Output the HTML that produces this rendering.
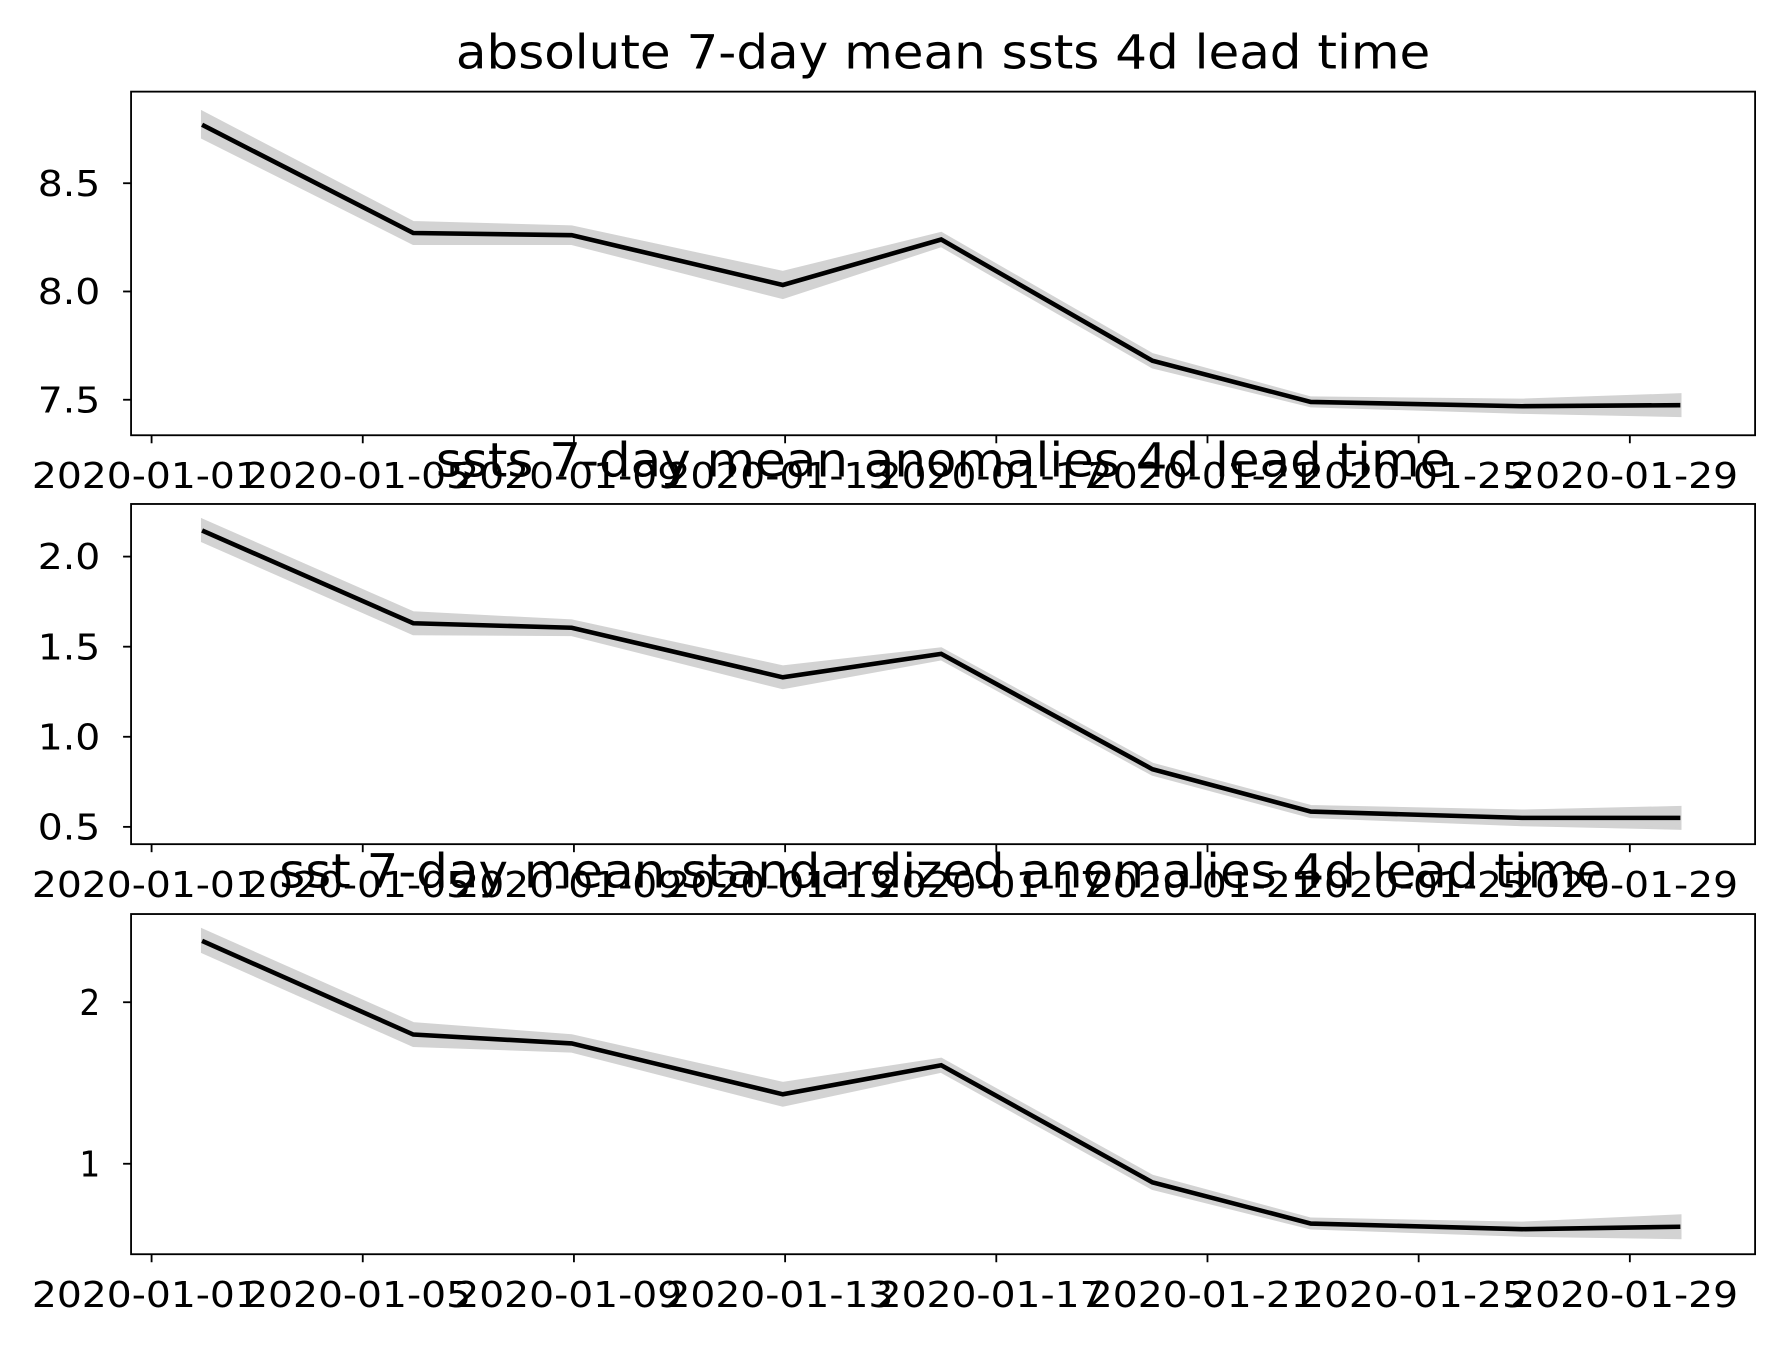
<!DOCTYPE html>
<html><head><meta charset="utf-8"><style>
html,body{margin:0;padding:0;background:#fff;}
svg{display:block;}
text{font-family:"DejaVu Sans","Liberation Sans",sans-serif;fill:#000;}
</style></head><body>
<svg id="chart" width="1787" height="1347" viewBox="0 0 1568 1176" preserveAspectRatio="none" xmlns="http://www.w3.org/2000/svg"></svg>
<script>
const dates = ["2020-01-02","2020-01-06","2020-01-09","2020-01-13","2020-01-16","2020-01-20","2020-01-23","2020-01-27","2020-01-30"];
const tickDates = ["2020-01-01","2020-01-05","2020-01-09","2020-01-13","2020-01-17","2020-01-21","2020-01-25","2020-01-29"];
const titles = ["absolute 7-day mean ssts 4d lead time","ssts 7-day mean anomalies 4d lead time","sst 7-day mean standardized anomalies 4d lead time"];
const mean1 = [8.77,8.27,8.26,8.03,8.24,7.68,7.49,7.47,7.475];
const mean2 = [2.145,1.63,1.605,1.33,1.46,0.82,0.585,0.55,0.55];
const mean3 = [2.38,1.80,1.745,1.43,1.61,0.885,0.63,0.595,0.61];
const spread1 = [0.06,0.05,0.04,0.06,0.03,0.03,0.02,0.03,0.05];
const spread2 = [0.06,0.06,0.04,0.06,0.03,0.03,0.03,0.04,0.06];
const spread3 = [0.07,0.07,0.05,0.07,0.04,0.04,0.03,0.04,0.07];
const yTicks1 = [7.5,8.0,8.5];
const yTickLabels1 = ["7.5","8.0","8.5"];
const yTicks2 = [0.5,1.0,1.5,2.0];
const yTickLabels2 = ["0.5","1.0","1.5","2.0"];
const yTicks3 = [1,2];
const yTickLabels3 = ["1","2"];
const ylims = [[7.336,8.923],[0.404,2.292],[0.44,2.546]];

const svg = document.getElementById('chart');
const NS = "http://www.w3.org/2000/svg";
function mk(tag, attrs, parent){const e=document.createElementNS(NS,tag);for(const k in attrs)e.setAttribute(k,attrs[k]);(parent||svg).appendChild(e);return e;}
const day0 = Date.parse("2020-01-01");
function dayOf(d){return (Date.parse(d)-day0)/86400000;}
const L=115,R=1540;
function xS(d){return 133 + dayOf(d)*(185.3/4) - 2;}
const titleLens=[855,890,1165];
const titleOff=[20,24,23];
const panels=[{top:80,bot:380,mean:mean1,spread:spread1,ticks:yTicks1,labels:yTickLabels1},
{top:440,bot:737,mean:mean2,spread:spread2,ticks:yTicks2,labels:yTickLabels2},
{top:798,bot:1095,mean:mean3,spread:spread3,ticks:yTicks3,labels:yTickLabels3}];
panels.forEach((p,i)=>{
  const g=mk('g',{});
  
  
  const [y0,y1]=ylims[i];
  const yS=v=>p.bot-(v-y0)/(y1-y0)*(p.bot-p.top);
  let up=dates.map((d,j)=>xS(d)+','+yS(p.mean[j]+p.spread[j]));
  let lo=dates.map((d,j)=>xS(d)+','+yS(p.mean[j]-p.spread[j])).reverse();
  const band=mk('polygon',{points:up.concat(lo).join(' '),fill:'#d3d3d3',stroke:'#d3d3d3','stroke-width':2},g);
  
  
  const line=mk('polyline',{points:dates.map((d,j)=>xS(d)+','+yS(p.mean[j])).join(' '),fill:'none',stroke:'#000','stroke-width':4},g);
  
  
  const fr=mk('rect',{x:L,y:p.top,width:R-L,height:p.bot-p.top,fill:'none',stroke:'#000','stroke-width':1.6},g);
  
  
  p.ticks.forEach((v,j)=>{
    const y=yS(v);
    mk('line',{x1:L-7,x2:L,y1:y,y2:y,stroke:'#000','stroke-width':1.6},g);
    const lab=p.labels[j];
    const t=mk('text',{x:L-27,y:y+11,'text-anchor':'end','font-size':31,textLength:lab.length*18.3,lengthAdjust:'spacingAndGlyphs'},g);
    t.textContent=lab;
    
    
  });
  tickDates.forEach(d=>{
    const x=xS(d)+2;
    mk('line',{x1:x,x2:x,y1:p.bot,y2:p.bot+7,stroke:'#000','stroke-width':1.6},g);
    const t=mk('text',{x:x-5,y:p.bot+46,'text-anchor':'middle','font-size':31,textLength:200,lengthAdjust:'spacingAndGlyphs'},g);
    t.textContent=d;
    
    
  });
  const tt=mk('text',{x:(L+R)/2,y:p.top-titleOff[i],'text-anchor':'middle','font-size':41,textLength:titleLens[i],lengthAdjust:'spacingAndGlyphs'},g);
  tt.textContent=titles[i];
  
  
});
</script>
</body></html>
